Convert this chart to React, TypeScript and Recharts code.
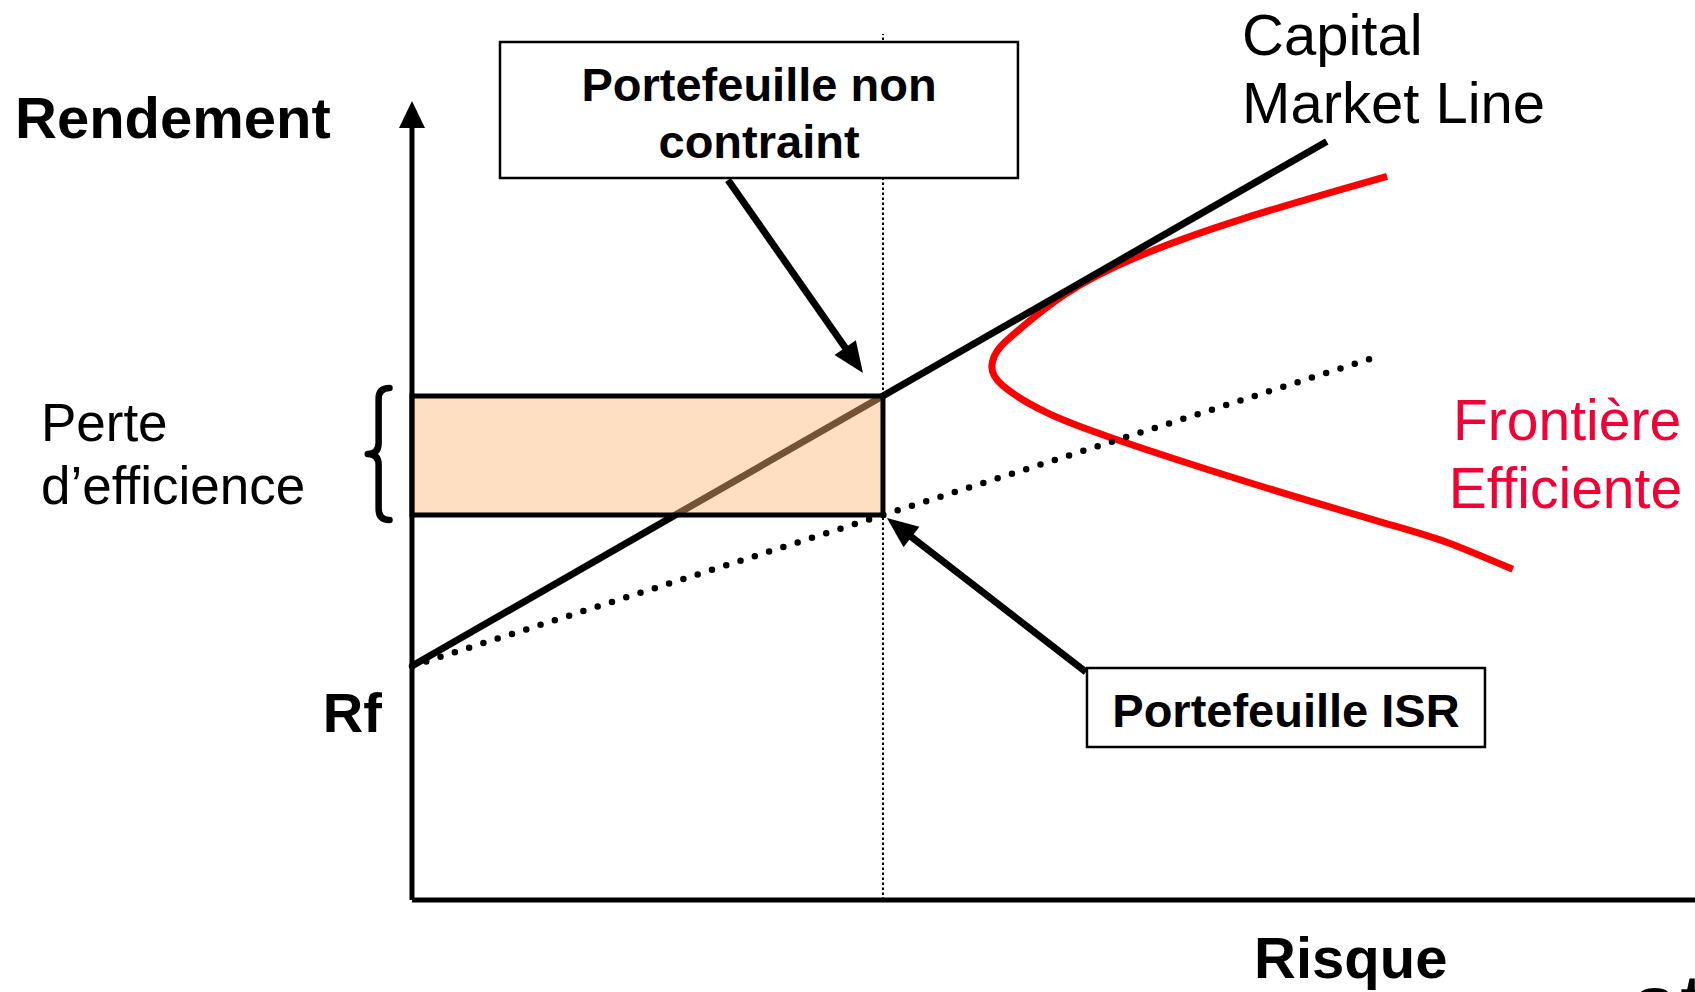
import React from 'react';
import {
  ComposedChart,
  Line,
  XAxis,
  YAxis,
  ReferenceLine,
  ReferenceArea,
  ReferenceDot,
} from 'recharts';

const FONT = '"Liberation Sans", Arial, Helvetica, sans-serif';
const RED = '#ff0000';
const RED_TEXT = '#f20035';

// risque / rendement, axes cross at 0,0
const X_DOMAIN: [number, number] = [-32.11, 100];
const Y_DOMAIN: [number, number] = [-11.54, 112.92];

const rf = 29.36;
const isrRisk = 36.71;
const unconstrainedReturn = 63.24;
const isrReturn = 48.31;

const cmlPoints = [
  { x: 0, y: rf },
  { x: 71.3, y: 95.17 },
];

const isrPoints = [
  { x: 0, y: rf },
  { x: 74.9, y: 68.0 },
];

const frontierPoints = [
  { x: 76.0, y: 90.8 },
  { x: 64.8, y: 85.5 },
  { x: 56.4, y: 80.6 },
  { x: 50.9, y: 76.0 },
  { x: 47.5, y: 71.8 },
  { x: 45.8, y: 69.3 },
  { x: 45.2, y: 67.1 },
  { x: 46.0, y: 64.6 },
  { x: 49.4, y: 61.2 },
  { x: 54.5, y: 58.0 },
  { x: 64.8, y: 52.6 },
  { x: 75.8, y: 47.3 },
  { x: 80.8, y: 44.8 },
  { x: 85.8, y: 41.5 },
];

// annotation boxes and pointers
const boxNonContraint = { x1: 6.86, x2: 47.23, y1: 90.59, y2: 107.65 };
const boxIsr = { x1: 52.61, x2: 83.63, y1: 19.2, y2: 29.11 };
const arrowNonContraint = [{ x: 24.63, y: 90.34 }, { x: 35.15, y: 66.12 }];
const arrowIsr = [{ x: 52.53, y: 28.61 }, { x: 37.02, y: 47.93 }];
const brace = { x1: -3.45, x2: -1.75, y1: 47.68, y2: 64.24 };

type Txt = {
  text: string;
  x: number;
  y: number;
  size: number;
  bold?: boolean;
  anchor?: 'start' | 'middle' | 'end';
  color?: string;
};

const labels: Txt[] = [
  { text: 'Rendement', x: -30.94, y: 95.6, size: 58, bold: true },
  { text: 'Rf', x: -2.34, y: 21.08, size: 56, bold: true, anchor: 'end' },
  { text: 'Risque', x: 65.63, y: -9.79, size: 58, bold: true },
  { text: 'Capital', x: 64.7, y: 106.0, size: 58 },
  { text: 'Market Line', x: 64.7, y: 97.5, size: 58 },
  { text: 'Perte', x: -28.92, y: 57.6, size: 53 },
  { text: 'd\u2019efficience', x: -28.92, y: 49.7, size: 53 },
  { text: 'Frontière', x: 81.14, y: 57.7, size: 57, color: RED_TEXT },
  { text: 'Efficiente', x: 80.8, y: 49.2, size: 57, color: RED_TEXT },
  { text: 'Portefeuille non', x: 27.05, y: 100.2, size: 47, bold: true, anchor: 'middle' },
  { text: 'contraint', x: 27.05, y: 93.1, size: 47, bold: true, anchor: 'middle' },
  { text: 'Portefeuille ISR', x: 68.12, y: 21.7, size: 47, bold: true, anchor: 'middle' },
];

const textShape = (t: Txt) => (p: any) => (
  <text
    x={p.cx}
    y={p.cy}
    textAnchor={t.anchor || 'start'}
    fontSize={t.size}
    fontWeight={t.bold ? 700 : 400}
    fill={t.color || '#000'}
    fontFamily={FONT}
  >
    {t.text}
  </text>
);

const arrowShape = (head: number, halfW: number, sw: number) => (p: any) => {
  const { x1, y1, x2, y2 } = p;
  const dx = x2 - x1;
  const dy = y2 - y1;
  const len = Math.hypot(dx, dy) || 1;
  const ux = dx / len;
  const uy = dy / len;
  const bx = x2 - ux * head;
  const by = y2 - uy * head;
  const nx = -uy;
  const ny = ux;
  return (
    <g>
      <line x1={x1} y1={y1} x2={bx + ux * 2} y2={by + uy * 2} stroke="#000" strokeWidth={sw} />
      <polygon
        points={`${x2},${y2} ${bx + nx * halfW},${by + ny * halfW} ${bx - nx * halfW},${by - ny * halfW}`}
        fill="#000"
      />
    </g>
  );
};

const braceShape = (p: any) => {
  const { x, y, width, height } = p;
  const xl = x;
  const xr = x + width;
  const xm = x + width / 2;
  const cy = y + height / 2;
  const r = width / 2;
  const d = `M${xr},${y} Q${xm},${y} ${xm},${y + r} L${xm},${cy - r} Q${xm},${cy} ${xl},${cy} Q${xm},${cy} ${xm},${cy + r} L${xm},${y + height - r} Q${xm},${y + height} ${xr},${y + height}`;
  return <path d={d} fill="none" stroke="#000" strokeWidth={6.5} strokeLinejoin="round" strokeLinecap="round" />;
};

export default function App() {
  return (
    <div style={{ position: 'absolute', left: 0, top: 0, width: 1695, height: 992, background: '#fff' }}>
      <ComposedChart width={1695} height={992} margin={{ top: 0, right: 0, bottom: 0, left: 0 }}>
        <XAxis type="number" dataKey="x" domain={X_DOMAIN} allowDataOverflow hide />
        <YAxis type="number" dataKey="y" domain={Y_DOMAIN} allowDataOverflow hide />

        {/* axes */}
        <ReferenceLine
          segment={[{ x: 0, y: 0 }, { x: 100, y: 0 }]}
          stroke="#000"
          strokeWidth={5}
        />
        <ReferenceLine
          segment={[{ x: 0, y: 0 }, { x: 0, y: 100.25 }]}
          shape={arrowShape(27, 13, 5)}
        />
        {/* risque du portefeuille ISR */}
        <ReferenceLine
          segment={[{ x: isrRisk, y: 0 }, { x: isrRisk, y: 108.66 }]}
          stroke="#000"
          strokeWidth={2}
          strokeDasharray="2.5 2.5"
        />

        <Line
          data={frontierPoints}
          dataKey="y"
          type="natural"
          stroke={RED}
          strokeWidth={7}
          dot={false}
          activeDot={false}
          isAnimationActive={false}
        />
        <Line
          data={isrPoints}
          dataKey="y"
          type="linear"
          stroke="#000"
          strokeWidth={6.5}
          strokeDasharray="0 15"
          strokeLinecap="round"
          dot={false}
          activeDot={false}
          isAnimationActive={false}
        />
        <Line
          data={cmlPoints}
          dataKey="y"
          type="linear"
          stroke="#000"
          strokeWidth={7}
          dot={false}
          activeDot={false}
          isAnimationActive={false}
        />

        {/* perte d'efficience */}
        <ReferenceArea
          x1={0}
          x2={isrRisk}
          y1={isrReturn}
          y2={unconstrainedReturn}
          fill="#fcb978"
          fillOpacity={0.45}
          stroke="#000"
          strokeWidth={5}
          zIndex={450}
        />
        <ReferenceArea {...brace} shape={braceShape} zIndex={450} />

        <ReferenceArea {...boxNonContraint} fill="#fff" fillOpacity={1} stroke="#000" strokeWidth={2.5} zIndex={450} />
        <ReferenceArea {...boxIsr} fill="#fff" fillOpacity={1} stroke="#000" strokeWidth={2.5} zIndex={450} />

        <ReferenceLine segment={arrowNonContraint} shape={arrowShape(31, 13, 7)} zIndex={500} />
        <ReferenceLine segment={arrowIsr} shape={arrowShape(31, 13, 7)} zIndex={500} />

        {labels.map((t) => (
          <ReferenceDot key={t.text} x={t.x} y={t.y} r={0} shape={textShape(t)} zIndex={2000} />
        ))}
        <ReferenceDot
          x={94.93}
          y={-17.2}
          r={0}
          ifOverflow="visible"
          shape={textShape({ text: 'at', x: 94.93, y: -17.2, size: 90 })}
          zIndex={2000}
        />
      </ComposedChart>
    </div>
  );
}
